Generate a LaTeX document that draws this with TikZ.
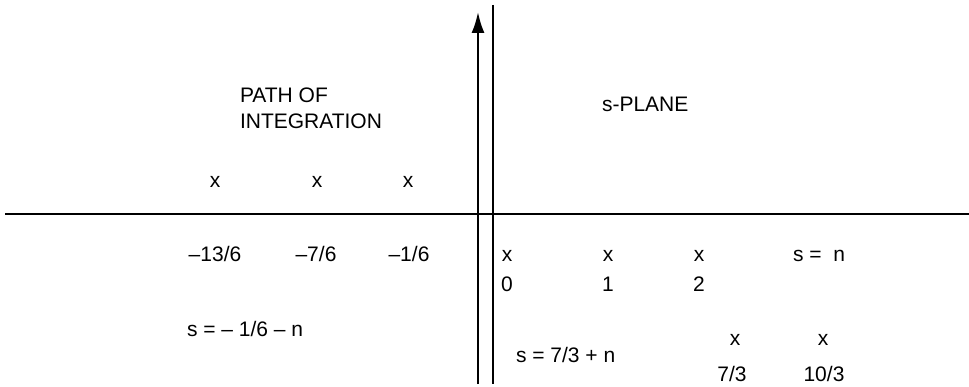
\documentclass[tikz,border=0pt]{standalone}
\usepackage{fontspec}
\setmainfont{Liberation Sans}
\usetikzlibrary{arrows.meta}
\begin{document}
\begin{tikzpicture}[x=1pt,y=-1pt,
  lbl/.style={inner sep=0pt,outer sep=0pt,font=\fontsize{21}{25}\selectfont},
  lw/.style={anchor=base west,lbl},
  lc/.style={anchor=base,lbl},
  axis/.style={line width=2.2pt,black}]
\useasboundingbox (0,0) rectangle (969,387);
% axes
\coordinate (hl) at (5,214);
\coordinate (hr) at (969,214);
\coordinate (vt) at (493,5);
\coordinate (vb) at (493,384);
\coordinate (pb) at (478,384);
\coordinate (pt) at (478,12);
\draw[axis] (hl) -- (hr);
\draw[axis] (vt) -- (vb);
\draw[axis,-{Latex[length=21pt,width=13pt]}] (pb) -- (pt);
% labels
\node[lw] (path) at (240,103) {PATH OF};
\node[lw] (integ) at (240,129) {INTEGRATION};
\node[lw] (splane) at (602,112) {s-PLANE};
\node[lc] (xa) at (215,188) {x};
\node[lc] (xb) at (317,188) {x};
\node[lc] (xc) at (408,188) {x};
\node[lc] (na) at (215,262) {–13/6};
\node[lc] (nb) at (316,262) {–7/6};
\node[lc] (nc) at (409,262) {–1/6};
\node[lw] (sl) at (187,336) {s = – 1/6 – n};
\node[lc] (x0) at (507,262) {x};
\node[lc] (x1) at (608,262) {x};
\node[lc] (x2) at (699,262) {x};
\node[lw] (sn) at (793,262) {s =\ \ n};
\node[lc] (n0) at (507,292) {0};
\node[lc] (n1) at (608,292) {1};
\node[lc] (n2) at (699,292) {2};
\node[lw] (sr) at (516,362) {s = 7/3 + n};
\node[lc] (x3) at (735,345) {x};
\node[lc] (x4) at (823,345) {x};
\node[lc] (n3) at (732,381) {7/3};
\node[lc] (n4) at (824,381) {10/3};
\end{tikzpicture}
\end{document}
